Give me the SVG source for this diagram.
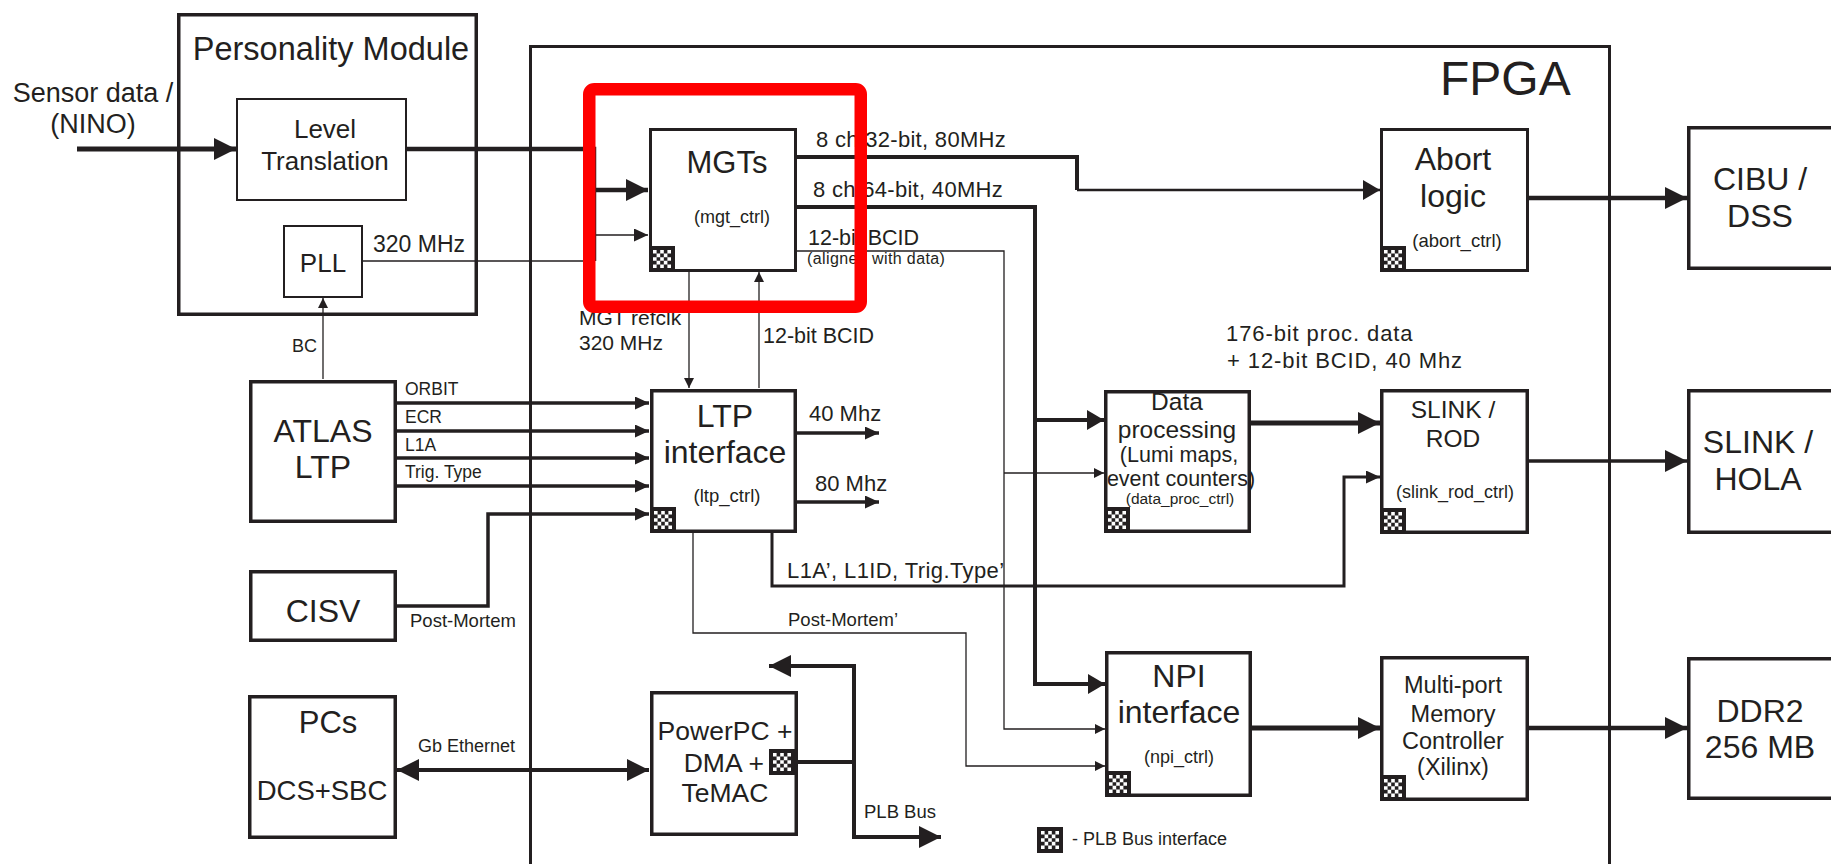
<svg xmlns="http://www.w3.org/2000/svg" width="1831" height="864" viewBox="0 0 1831 864">
<style>
text{font-family:"Liberation Sans",Arial,sans-serif;fill:#231f20}
.c{text-anchor:middle}
.box{fill:#fff;stroke:#231f20;stroke-width:3.5}
.box2{fill:#fff;stroke:#231f20;stroke-width:2}
.frame{fill:none;stroke:#231f20;stroke-width:3.5}
.thin{fill:none;stroke:#231f20;stroke-width:1.3}
.med{fill:none;stroke:#231f20;stroke-width:3.5}
.thick{fill:none;stroke:#231f20;stroke-width:4.5}
.big{font-size:32px}
.ctl{font-size:18px}
.lbl{font-size:18px}
.sig{font-size:21.5px}
</style>
<defs>
<marker id="aB" markerUnits="userSpaceOnUse" viewBox="0 0 22 22" markerWidth="22" markerHeight="22" refX="22" refY="11" orient="auto-start-reverse"><path d="M0,0L22,11L0,22z" fill="#231f20"/></marker>
<marker id="aM" markerUnits="userSpaceOnUse" viewBox="0 0 17 20" markerWidth="17" markerHeight="20" refX="17" refY="10" orient="auto"><path d="M0,0L17,10L0,20z" fill="#231f20"/></marker>
<marker id="aS" markerUnits="userSpaceOnUse" viewBox="0 0 14 13" markerWidth="14" markerHeight="13" refX="14" refY="6.5" orient="auto"><path d="M0,0L14,6.5L0,13z" fill="#231f20"/></marker>
<marker id="aT" markerUnits="userSpaceOnUse" viewBox="0 0 10 10" markerWidth="10" markerHeight="10" refX="10" refY="5" orient="auto"><path d="M0,0L10,5L0,10z" fill="#231f20"/></marker>
<g id="plb">
<rect width="26" height="26" fill="#231f20"/>
<path fill="#fff" d="M4 4h3.6v3.6h-3.6zM11.2 4h3.6v3.6h-3.6zM18.4 4h3.6v3.6h-3.6zM7.6 7.6h3.6v3.6h-3.6zM14.8 7.6h3.6v3.6h-3.6zM4 11.2h3.6v3.6h-3.6zM11.2 11.2h3.6v3.6h-3.6zM18.4 11.2h3.6v3.6h-3.6zM7.6 14.8h3.6v3.6h-3.6zM14.8 14.8h3.6v3.6h-3.6zM4 18.4h3.6v3.6h-3.6zM11.2 18.4h3.6v3.6h-3.6zM18.4 18.4h3.6v3.6h-3.6z"/>
</g>
</defs>
<rect width="1831" height="864" fill="#fff"/>

<g id="fpga">
<rect class="frame" x="530.5" y="46.5" width="1079" height="900" style="stroke-width:3"/>
<text x="1440" y="95" style="font-size:48px">FPGA</text>
</g>

<g id="personality-module">
<rect class="frame" x="178.75" y="14.75" width="297.5" height="299.5"/>
<text class="c" x="331" y="60" style="font-size:32.5px">Personality Module</text>
</g>

<g id="connectors">
<path class="thick" d="M77,149H236" style="stroke-width:5" marker-end="url(#aB)"/>
<text class="c" x="93" y="102" style="font-size:27px">Sensor data /</text>
<text class="c" x="93" y="133" style="font-size:27px">(NINO)</text>
<path class="thick" d="M407,149H594V261M594,190H648" marker-end="url(#aB)"/>
<path class="thin" d="M363,261H594V235H648" style="stroke-width:1.6" marker-end="url(#aS)"/>
<text x="373" y="252" style="font-size:23px">320 MHz</text>
<path class="thin" d="M323,379V298" marker-end="url(#aT)"/>
<text x="292" y="352" class="lbl">BC</text>

<path class="thick" d="M797,157H1077V190" style="stroke-width:4"/>
<path class="thin" d="M1077,190H1380" style="stroke-width:2.5" marker-end="url(#aM)"/>
<text x="816" y="147" style="font-size:22px;letter-spacing:0.3px">8 ch 32-bit, 80MHz</text>
<path class="thick" d="M797,207H1035V684H1105" style="stroke-width:4" marker-end="url(#aM)"/>
<path class="thick" d="M1035,420H1104" style="stroke-width:4" marker-end="url(#aM)"/>
<text x="813" y="197" style="font-size:22px;letter-spacing:0.3px">8 ch 64-bit, 40MHz</text>
<path class="thin" d="M797,251H1004V729H1105" marker-end="url(#aT)"/>
<path class="thin" d="M1004,473H1104" marker-end="url(#aT)"/>
<text x="808" y="245" class="sig">12-bit BCID</text>
<text x="807" y="264" style="font-size:16px;letter-spacing:0.4px">(aligned with data)</text>

<path class="thin" d="M689,272V388" marker-end="url(#aT)"/>
<text x="579" y="325" style="font-size:21px">MGT refclk</text>
<text x="579" y="350" style="font-size:21px">320 MHz</text>
<path class="thin" d="M759,388V272" marker-end="url(#aT)"/>
<text x="763" y="343" class="sig">12-bit BCID</text>

<path class="med" d="M397,403H649" marker-end="url(#aS)"/>
<path class="med" d="M397,431H649" marker-end="url(#aS)"/>
<path class="med" d="M397,458H649" marker-end="url(#aS)"/>
<path class="med" d="M397,486H649" marker-end="url(#aS)"/>
<text x="405" y="395" style="font-size:17.5px">ORBIT</text>
<text x="405" y="423" style="font-size:17.5px">ECR</text>
<text x="405" y="451" style="font-size:17.5px">L1A</text>
<text x="405" y="478" style="font-size:17.5px">Trig. Type</text>
<path class="med" d="M397,606H488V514H649" marker-end="url(#aS)"/>
<text x="410" y="627" style="font-size:18.5px">Post-Mortem</text>

<path class="med" d="M797,433H879" marker-end="url(#aS)"/>
<text x="809" y="421" style="font-size:22px">40 Mhz</text>
<path class="med" d="M797,502H879" marker-end="url(#aS)"/>
<text x="815" y="491" style="font-size:22px">80 Mhz</text>

<path class="med" d="M772,532V586H1344V477H1380" style="stroke-width:3" marker-end="url(#aS)"/>
<text x="787" y="578" style="font-size:22px;letter-spacing:0.4px">L1A’, L1ID, Trig.Type’</text>
<path class="thin" d="M693,532V633H966V766H1105" marker-end="url(#aT)"/>
<text x="788" y="626" style="font-size:18.5px">Post-Mortem’</text>

<path class="thick" d="M1251,423H1380" style="stroke-width:5" marker-end="url(#aB)"/>
<text x="1226" y="341" style="font-size:22px;letter-spacing:0.9px">176-bit proc. data</text>
<text x="1227" y="368" style="font-size:22px;letter-spacing:0.9px">+ 12-bit BCID, 40 Mhz</text>
<path class="med" d="M1529,461H1687" marker-end="url(#aB)"/>
<path class="thick" d="M1529,198H1687" marker-end="url(#aB)"/>
<path class="thick" d="M1252,728H1380" style="stroke-width:5" marker-end="url(#aB)"/>
<path class="thick" d="M1529,728H1687" marker-end="url(#aB)"/>

<path class="thick" d="M397,770H649" style="stroke-width:4" marker-start="url(#aB)" marker-end="url(#aB)"/>
<text x="418" y="752" class="lbl">Gb Ethernet</text>
<path class="thick" d="M794,762H854" style="stroke-width:4"/>
<path class="thick" d="M769,666H854V837H941" style="stroke-width:4" marker-start="url(#aB)" marker-end="url(#aB)"/>
<text x="864" y="818" style="font-size:18.5px">PLB Bus</text>
</g>

<g id="level-translation">
<rect class="box2" x="237" y="99" width="169" height="101"/>
<text class="c" x="325" y="138" style="font-size:26px">Level</text>
<text class="c" x="325" y="170" style="font-size:26px">Translation</text>
</g>

<g id="pll">
<rect class="box2" x="284" y="226" width="78" height="71"/>
<text class="c" x="323" y="272" style="font-size:26px">PLL</text>
</g>

<g id="mgts">
<rect class="box" x="650.5" y="129.5" width="145" height="141" style="stroke-width:3"/>
<text class="c" x="727" y="173" style="font-size:31px">MGTs</text>
<text class="c ctl" x="732" y="223">(mgt_ctrl)</text>
<use href="#plb" x="649" y="246"/>
</g>

<g id="atlas-ltp">
<rect class="box" x="250.75" y="381.75" width="144.5" height="139.5"/>
<text class="c big" x="323" y="442">ATLAS</text>
<text class="c big" x="323" y="478">LTP</text>
</g>

<g id="cisv">
<rect class="box" x="250.75" y="571.75" width="144.5" height="68.5"/>
<text class="c big" x="323" y="622">CISV</text>
</g>

<g id="pcs">
<rect class="box" x="249.75" y="696.75" width="145.5" height="140.5"/>
<text class="c" x="328" y="733" style="font-size:31px">PCs</text>
<text class="c" x="322" y="800" style="font-size:27.5px">DCS+SBC</text>
</g>

<g id="ltp-interface">
<rect class="box" x="651.75" y="390.75" width="143.5" height="140.5"/>
<text class="c big" x="725" y="427">LTP</text>
<text class="c big" x="725" y="463">interface</text>
<text class="c" x="727" y="502" style="font-size:18.5px">(ltp_ctrl)</text>
<use href="#plb" x="650" y="507"/>
</g>

<g id="powerpc">
<rect class="box" x="651.75" y="692.75" width="144.5" height="141.5"/>
<text class="c" x="725" y="740" style="font-size:26.5px">PowerPC +</text>
<text x="764" y="772" style="font-size:26.5px;text-anchor:end">DMA +</text>
<text class="c" x="725" y="802" style="font-size:26.5px">TeMAC</text>
<use href="#plb" x="769" y="749"/>
</g>

<g id="data-processing">
<rect class="box" x="1105.75" y="391.75" width="143.5" height="139.5"/>
<text class="c" x="1177" y="410" style="font-size:24.5px">Data</text>
<text class="c" x="1177" y="438" style="font-size:24.5px">processing</text>
<text class="c" x="1179" y="462" style="font-size:21.5px">(Lumi maps,</text>
<text class="c" x="1181" y="486" style="font-size:21.5px">event counters)</text>
<text class="c" x="1180" y="504" style="font-size:15.5px">(data_proc_ctrl)</text>
<use href="#plb" x="1104" y="507"/>
</g>

<g id="npi-interface">
<rect class="box" x="1106.75" y="652.75" width="143.5" height="142.5"/>
<text class="c big" x="1179" y="687">NPI</text>
<text class="c big" x="1179" y="723">interface</text>
<text class="c ctl" x="1179" y="763">(npi_ctrl)</text>
<use href="#plb" x="1105" y="771"/>
</g>

<g id="abort-logic">
<rect class="box" x="1381.5" y="129.5" width="146" height="141" style="stroke-width:3"/>
<text class="c big" x="1453" y="170">Abort</text>
<text class="c big" x="1453" y="207">logic</text>
<text class="c" x="1457" y="247" style="font-size:18.5px">(abort_ctrl)</text>
<use href="#plb" x="1380" y="246"/>
</g>

<g id="slink-rod">
<rect class="box" x="1381.75" y="390.75" width="145.5" height="141.5"/>
<text class="c" x="1453" y="418" style="font-size:24.5px">SLINK /</text>
<text class="c" x="1453" y="447" style="font-size:24.5px">ROD</text>
<text class="c ctl" x="1455" y="498">(slink_rod_ctrl)</text>
<use href="#plb" x="1380" y="508"/>
</g>

<g id="mpmc">
<rect class="box" x="1381.75" y="657.75" width="145.5" height="141.5"/>
<text class="c" x="1453" y="693" style="font-size:23.5px">Multi-port</text>
<text class="c" x="1453" y="722" style="font-size:23.5px">Memory</text>
<text class="c" x="1453" y="749" style="font-size:23.5px">Controller</text>
<text class="c" x="1453" y="775" style="font-size:23.5px">(Xilinx)</text>
<use href="#plb" x="1380" y="775"/>
</g>

<g id="cibu-dss">
<rect class="box" x="1688.75" y="127.75" width="200" height="140.5"/>
<text class="c big" x="1760" y="190">CIBU /</text>
<text class="c big" x="1760" y="227">DSS</text>
</g>

<g id="slink-hola">
<rect class="box" x="1688.75" y="390.75" width="200" height="141.5"/>
<text class="c big" x="1758" y="453">SLINK /</text>
<text class="c big" x="1758" y="490">HOLA</text>
</g>

<g id="ddr2">
<rect class="box" x="1688.75" y="658.75" width="200" height="139.5"/>
<text class="c big" x="1760" y="722">DDR2</text>
<text class="c big" x="1760" y="758">256 MB</text>
</g>

<g id="legend">
<use href="#plb" x="1037" y="827"/>
<text x="1072" y="845" class="lbl">- PLB Bus interface</text>
</g>

<g id="highlight">
<rect x="589.25" y="89.25" width="271.5" height="217.5" rx="5" fill="none" stroke="#ff0000" stroke-width="12.5"/>
</g>
</svg>
